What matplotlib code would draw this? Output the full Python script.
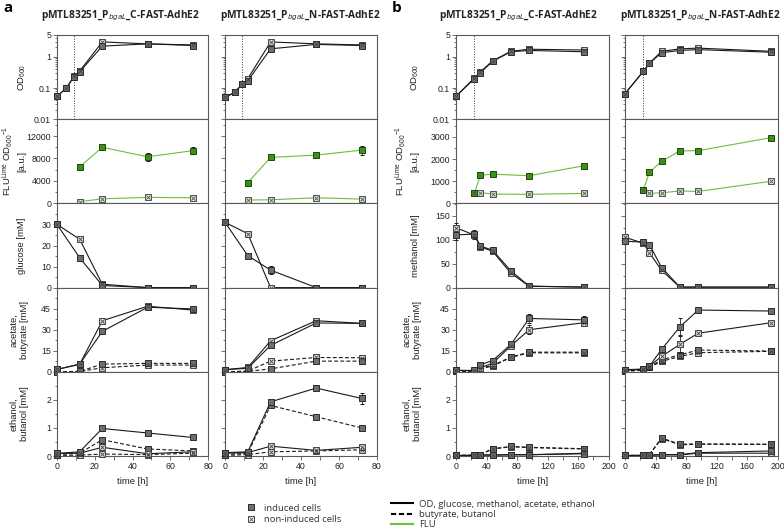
import matplotlib
matplotlib.use('Agg')
import matplotlib.pyplot as plt
from matplotlib.lines import Line2D
from matplotlib.ticker import MultipleLocator, FixedLocator, NullFormatter, LogLocator

plt.rcParams['font.family'] = ['Liberation Sans', 'DejaVu Sans']
plt.rcParams['mathtext.default'] = 'regular'

# ---------------- data: panel a, C-FAST (left) ----------------
ac_t_od = [0, 5, 9, 12, 24, 48, 72]
ac_od_ind = [0.054, 0.10, 0.23, 0.33, 2.2, 2.6, 2.3]
ac_od_non = [0.054, 0.10, 0.24, 0.35, 3.0, 2.6, 2.4]
ac_t_flu = [12, 24, 48, 72]
ac_flu_ind = [6500, 10000, 8300, 9400]
ac_flu_ind_err = [300, 400, 700, 650]
ac_flu_non = [300, 820, 1070, 1010]
ac_flu_non_err = [100, 300, 150, 100]
ac_t = [0, 12, 24, 48, 72]
ac_glc_ind = [30, 14.2, 1.0, 0, 0]
ac_glc_ind_err = [0.5, 0.8, 1.5, 0.2, 0.2]
ac_glc_non = [30, 23, 1.6, 0, 0]
ac_glc_non_err = [0.5, 1.5, 1.5, 0.2, 0.2]
ac_ace_ind = [1.7, 5.5, 28.8, 46.0, 44.8]
ac_ace_non = [1.7, 5.3, 36.4, 46.7, 44.0]
ac_ace_err = [0.3, 0.8, 2.0, 1.0, 1.5]
ac_but_ind = [0, 0.3, 5.5, 6.0, 6.0]
ac_but_non = [0, 0.2, 2.9, 4.8, 4.8]
ac_eth_ind = [0.09, 0.15, 0.98, 0.82, 0.66]
ac_eth_ind_err = [0.02, 0.03, 0.04, 0.08, 0.04]
ac_eth_non = [0.09, 0.10, 0.31, 0.08, 0.15]
ac_btl_ind = [0.05, 0.10, 0.58, 0.25, 0.18]
ac_btl_non = [0.02, 0.03, 0.07, 0.05, 0.10]

# ---------------- data: panel a, N-FAST (right) ----------------
an_t_od = [0, 5, 9, 12, 24, 48, 72]
an_od_ind = [0.05, 0.072, 0.13, 0.17, 1.8, 2.5, 2.3]
an_od_non = [0.05, 0.072, 0.13, 0.20, 3.0, 2.6, 2.4]
an_t_flu = [12, 24, 48, 72]
an_flu_ind = [3700, 8200, 8600, 9500]
an_flu_ind_err = [200, 300, 250, 800]
an_flu_non = [590, 650, 1000, 770]
an_flu_non_err = [300, 400, 150, 150]
an_t = [0, 12, 24, 48, 72]
an_glc_ind = [31, 15.2, 8.3, 0, 0]
an_glc_ind_err = [0.5, 0.8, 2.0, 0.3, 0.3]
an_glc_non = [31, 25.6, 0, 0, 0]
an_glc_non_err = [0.5, 0.8, 0.3, 0.3, 0.3]
an_ace_ind = [1.5, 2.5, 18.8, 34.8, 34.5]
an_ace_non = [1.5, 3.1, 22.1, 36.4, 34.5]
an_ace_err = [0.3, 0.5, 1.5, 1.2, 1.0]
an_but_ind = [0, 0.3, 2.1, 7.6, 7.6]
an_but_non = [0, 0.5, 7.6, 10.2, 10.0]
an_eth_ind = [0.12, 0.15, 1.93, 2.42, 2.05]
an_eth_ind_err = [0.02, 0.03, 0.08, 0.12, 0.2]
an_eth_non = [0.10, 0.12, 0.35, 0.20, 0.31]
an_btl_ind = [0.05, 0.10, 1.80, 1.40, 1.00]
an_btl_non = [0.02, 0.05, 0.15, 0.18, 0.22]

# ---------------- data: panel b, C-FAST (left) ----------------
bc_t = [0, 24, 32, 48, 72, 96, 168]
bc_od_ind = [0.054, 0.20, 0.31, 0.72, 1.45, 1.6, 1.45]
bc_od_non = [0.054, 0.21, 0.33, 0.74, 1.5, 1.75, 1.65]
bc_t_flu = [24, 32, 48, 96, 168]
bc_flu_ind = [450, 1270, 1320, 1250, 1700]
bc_flu_non = [450, 490, 420, 410, 450]
bc_flu_err = [40, 60, 50, 60, 50]
bc_met_ind = [110, 112, 87, 78, 35, 3, 1]
bc_met_non = [125, 110, 85, 76, 30, 3, 1]
bc_met_err = [10, 8, 5, 4, 4, 1, 1]
bc_ace_ind = [1.0, 1.0, 5.0, 8.0, 19.5, 38.0, 37.0]
bc_ace_non = [1.0, 0.8, 3.0, 6.0, 18.5, 30.0, 35.0]
bc_ace_err = [0.3, 0.3, 1.5, 1.0, 1.5, 3.0, 2.5]
bc_but_ind = [0.5, 0.5, 2.6, 4.5, 10.5, 14.0, 14.0]
bc_but_non = [0.3, 0.4, 2.2, 4.0, 10.3, 13.5, 13.5]
bc_eth_ind = [0.02, 0.02, 0.04, 0.04, 0.05, 0.05, 0.08]
bc_eth_non = [0.02, 0.02, 0.03, 0.03, 0.04, 0.04, 0.10]
bc_btl_ind = [0.02, 0.03, 0.05, 0.26, 0.34, 0.31, 0.26]
bc_btl_non = [0.02, 0.03, 0.05, 0.25, 0.33, 0.30, 0.25]

# ---------------- data: panel b, N-FAST (right) ----------------
bn_t = [0, 24, 32, 48, 72, 96, 192]
bn_od_ind = [0.066, 0.34, 0.62, 1.35, 1.6, 1.7, 1.4]
bn_od_non = [0.066, 0.34, 0.62, 1.5, 1.8, 1.9, 1.5]
bn_t_flu = [24, 32, 48, 72, 96, 192]
bn_flu_ind = [600, 1400, 1900, 2370, 2380, 2970]
bn_flu_non = [600, 450, 480, 560, 540, 1000]
bn_flu_err = [40, 80, 50, 60, 60, 50]
bn_met_ind = [97, 95, 90, 42, 1, 1, 1]
bn_met_non = [105, 93, 73, 36, 1, 1, 1]
bn_met_err = [5, 4, 3, 4, 1, 1, 1]
bn_ace_ind = [1.5, 2.0, 4.0, 16.0, 32.0, 44.0, 43.3]
bn_ace_non = [1.0, 1.8, 4.0, 11.0, 19.5, 27.5, 35.0]
bn_ace_err = [0.5, 0.5, 0.8, 1.0, 6.0, 2.0, 1.0]
bn_but_ind = [0.5, 1.5, 3.5, 8.6, 12.1, 15.5, 14.8]
bn_but_non = [0.3, 1.2, 3.2, 7.4, 11.0, 13.6, 14.6]
bn_eth_ind = [0.02, 0.02, 0.03, 0.05, 0.05, 0.12, 0.18]
bn_eth_non = [0.02, 0.02, 0.03, 0.04, 0.04, 0.10, 0.10]
bn_btl_ind = [0.02, 0.02, 0.05, 0.64, 0.42, 0.43, 0.42]
bn_btl_non = [0.02, 0.02, 0.05, 0.62, 0.40, 0.42, 0.41]

induction_a = 9
induction_b = 24

titles = [r'pMTL83251_P$_{\it{bgaL}}$_C-FAST-AdhE2',
          r'pMTL83251_P$_{\it{bgaL}}$_N-FAST-AdhE2']

# ---------------- styling ----------------
W, H = 784, 530
fig = plt.figure(figsize=(W / 100, H / 100), dpi=100)

IND_FC, IND_EC = '#6e6e6e', '#2b2b2b'
NON_FC, NON_EC = '#d9d9d9', '#454545'
FLU_IND_FC, FLU_IND_EC = '#3f8f1c', '#1d4a0b'
FLU_LINE = '#6cbf3c'
SPINE = '#5a5a5a'
TXT = '#222222'
MS = 3.8


def rect(x, y, w, h):
    return [x / W, 1 - (y + h) / H, w / W, h / H]


col_x = [57, 225, 456, 625]
col_w = [151, 152, 152.5, 152.5]
row_y = [35, 119.2, 203.4, 287.6, 371.8]
row_h = 84.2
title_cx = [120, 300, 518, 700]


def draw(ax, t, y, err=None, induced=True, ls='-', flu=False):
    if flu:
        color = FLU_LINE
        fc, ec = (FLU_IND_FC, FLU_IND_EC) if induced else ('#dfe6d8', '#505050')
    else:
        color = '#1a1a1a'
        fc, ec = (IND_FC, IND_EC) if induced else (NON_FC, NON_EC)
    kw = dict(color=color, lw=0.8, marker='s', ms=MS, mfc=fc, mec=ec, mew=0.7,
              clip_on=False, zorder=3)
    if ls == '--':
        kw['dashes'] = (3.5, 2)
    else:
        kw['ls'] = ls
    if err is not None:
        ax.errorbar(t, y, yerr=err, ecolor='#1a1a1a', elinewidth=0.6, capsize=1.6,
                    capthick=0.6, **kw)
    else:
        ax.plot(t, y, **kw)
    if not induced:
        ax.plot(t, y, ls='none', marker='x', ms=MS * 0.65, mew=0.6, color=ec,
                clip_on=False, zorder=4)


def style(ax, xmax, xmaj, xmin_, bottom, left_labels):
    ax.set_xlim(0, xmax)
    for s in ax.spines.values():
        s.set_color(SPINE)
        s.set_linewidth(0.8)
    ax.xaxis.set_major_locator(MultipleLocator(xmaj))
    ax.xaxis.set_minor_locator(MultipleLocator(xmin_))
    ax.tick_params(axis='both', which='both', direction='out', colors=SPINE,
                   labelcolor=TXT, labelsize=6.3, width=0.6)
    ax.tick_params(axis='both', which='major', length=2.8, pad=1.5)
    ax.tick_params(axis='both', which='minor', length=2.8)
    ax.tick_params(axis='y', which='minor', length=1.6)
    ax.tick_params(right=False, top=False)
    if not bottom:
        ax.tick_params(axis='x', labelbottom=False)
    if not left_labels:
        ax.tick_params(axis='y', labelleft=False)


panel_a = [
    dict(t_od=ac_t_od, od=(ac_od_ind, ac_od_non), t_flu=ac_t_flu,
         flu=(ac_flu_ind, ac_flu_non), flu_err=(ac_flu_ind_err, ac_flu_non_err),
         t=ac_t, sub=(ac_glc_ind, ac_glc_non), sub_err=(ac_glc_ind_err, ac_glc_non_err),
         ace=(ac_ace_ind, ac_ace_non), ace_err=ac_ace_err, but=(ac_but_ind, ac_but_non),
         eth=(ac_eth_ind, ac_eth_non), eth_err=ac_eth_ind_err, btl=(ac_btl_ind, ac_btl_non)),
    dict(t_od=an_t_od, od=(an_od_ind, an_od_non), t_flu=an_t_flu,
         flu=(an_flu_ind, an_flu_non), flu_err=(an_flu_ind_err, an_flu_non_err),
         t=an_t, sub=(an_glc_ind, an_glc_non), sub_err=(an_glc_ind_err, an_glc_non_err),
         ace=(an_ace_ind, an_ace_non), ace_err=an_ace_err, but=(an_but_ind, an_but_non),
         eth=(an_eth_ind, an_eth_non), eth_err=an_eth_ind_err, btl=(an_btl_ind, an_btl_non)),
]
panel_b = [
    dict(t_od=bc_t, od=(bc_od_ind, bc_od_non), t_flu=bc_t_flu,
         flu=(bc_flu_ind, bc_flu_non), flu_err=(bc_flu_err, bc_flu_err),
         t=bc_t, sub=(bc_met_ind, bc_met_non), sub_err=(bc_met_err, bc_met_err),
         ace=(bc_ace_ind, bc_ace_non), ace_err=bc_ace_err, but=(bc_but_ind, bc_but_non),
         eth=(bc_eth_ind, bc_eth_non), eth_err=None, btl=(bc_btl_ind, bc_btl_non)),
    dict(t_od=bn_t, od=(bn_od_ind, bn_od_non), t_flu=bn_t_flu,
         flu=(bn_flu_ind, bn_flu_non), flu_err=(bn_flu_err, bn_flu_err),
         t=bn_t, sub=(bn_met_ind, bn_met_non), sub_err=(bn_met_err, bn_met_err),
         ace=(bn_ace_ind, bn_ace_non), ace_err=bn_ace_err, but=(bn_but_ind, bn_but_non),
         eth=(bn_eth_ind, bn_eth_non), eth_err=None, btl=(bn_btl_ind, bn_btl_non)),
]

columns = [(panel_a[0], 0, 'a'), (panel_a[1], 1, 'a'), (panel_b[0], 2, 'b'), (panel_b[1], 3, 'b')]

for d, ci, pan in columns:
    xmax, xmaj, xmn = (80, 20, 10) if pan == 'a' else (200, 40, 20)
    left = ci in (0, 2)
    axes = [fig.add_axes(rect(col_x[ci], row_y[r], col_w[ci], row_h)) for r in range(5)]
    for r, ax in enumerate(axes):
        style(ax, xmax, xmaj, xmn, r == 4, left)
    # OD
    ax = axes[0]
    ax.set_yscale('log')
    ax.set_ylim(0.01, 5)
    ax.yaxis.set_major_locator(FixedLocator([0.01, 0.1, 1, 5]))
    ax.yaxis.set_minor_locator(LogLocator(base=10, subs=range(2, 10), numticks=20))
    ax.yaxis.set_minor_formatter(NullFormatter())
    ax.set_yticklabels(['0.01', '0.1', '1', '5'])
    ax.tick_params(axis='y', labelleft=left)
    ax.axvline(induction_a if pan == 'a' else induction_b, ls=':', color='#333333', lw=0.7)
    draw(ax, d['t_od'], d['od'][1], induced=False)
    draw(ax, d['t_od'], d['od'][0], induced=True)
    # FLU
    ax = axes[1]
    if pan == 'a':
        ax.set_ylim(0, 15000)
        ax.yaxis.set_major_locator(FixedLocator([0, 4000, 8000, 12000]))
        ax.yaxis.set_minor_locator(MultipleLocator(2000))
    else:
        ax.set_ylim(0, 3800)
        ax.yaxis.set_major_locator(FixedLocator([0, 1000, 2000, 3000]))
        ax.yaxis.set_minor_locator(MultipleLocator(500))
    draw(ax, d['t_flu'], d['flu'][1], d['flu_err'][1], induced=False, flu=True)
    draw(ax, d['t_flu'], d['flu'][0], d['flu_err'][0], induced=True, flu=True)
    # substrate
    ax = axes[2]
    if pan == 'a':
        ax.set_ylim(0, 40)
        ax.yaxis.set_major_locator(FixedLocator([0, 10, 20, 30]))
        ax.yaxis.set_minor_locator(MultipleLocator(5))
    else:
        ax.set_ylim(0, 176)
        ax.yaxis.set_major_locator(FixedLocator([0, 50, 100, 150]))
        ax.yaxis.set_minor_locator(MultipleLocator(25))
    draw(ax, d['t'], d['sub'][1], d['sub_err'][1], induced=False)
    draw(ax, d['t'], d['sub'][0], d['sub_err'][0], induced=True)
    # acids
    ax = axes[3]
    ax.set_ylim(0, 60)
    ax.yaxis.set_major_locator(FixedLocator([0, 15, 30, 45]))
    ax.yaxis.set_minor_locator(MultipleLocator(7.5))
    draw(ax, d['t'], d['but'][1], induced=False, ls='--')
    draw(ax, d['t'], d['but'][0], induced=True, ls='--')
    draw(ax, d['t'], d['ace'][1], d['ace_err'], induced=False)
    draw(ax, d['t'], d['ace'][0], d['ace_err'], induced=True)
    # alcohols
    ax = axes[4]
    ax.set_ylim(0, 3)
    ax.yaxis.set_major_locator(FixedLocator([0, 1, 2]))
    ax.yaxis.set_minor_locator(MultipleLocator(0.5))
    draw(ax, d['t'], d['btl'][1], induced=False, ls='--')
    draw(ax, d['t'], d['btl'][0], induced=True, ls='--')
    draw(ax, d['t'], d['eth'][1], induced=False)
    draw(ax, d['t'], d['eth'][0], d['eth_err'], induced=True)
    ax.set_xlabel('time [h]', fontsize=6.8, color=TXT, labelpad=4)
    # title
    fig.text(title_cx[ci] / W, 1 - 16 / H, titles[ci % 2], ha='center', va='center',
             fontsize=7.3, fontweight='bold', family=['Open Sans', 'DejaVu Sans'], color=TXT)

# y labels
lab_fs = 6.8
def ylab(xpx, row, text):
    fig.text(xpx / W, 1 - (row_y[row] + row_h / 2) / H, text, rotation=90, ha='center',
             va='center', fontsize=lab_fs, color=TXT, linespacing=1.3)

for base, sub in ((0, 'glucose [mM]'), (393, 'methanol [mM]')):
    ylab(base + 22, 0, 'OD$_{600}$')
    ylab(base + 14, 1, 'FLU$^{Lime}$ OD$_{600}$$^{-1}$\n[a.u.]')
    ylab(base + 22, 2, sub)
    ylab(base + 19, 3, 'acetate,\nbutyrate [mM]')
    ylab(base + 19, 4, 'ethanol,\nbutanol [mM]')

fig.text(3 / W, 1 - 8 / H, 'a', fontsize=11, fontweight='bold', ha='left', va='center',
         family=['Open Sans', 'DejaVu Sans'])
fig.text(392 / W, 1 - 8 / H, 'b', fontsize=11, fontweight='bold', ha='left', va='center',
         family=['Open Sans', 'DejaVu Sans'])

# legends
h_ind = Line2D([], [], ls='none', marker='s', ms=MS, mfc=IND_FC, mec=IND_EC, mew=0.7)
h_non_sq = Line2D([], [], ls='none', marker='s', ms=MS + 0.6, mfc='white', mec=NON_EC, mew=0.7)
h_non_x = Line2D([], [], ls='none', marker='x', ms=2.8, mew=0.6, color=NON_EC)
leg1 = fig.legend([h_ind, (h_non_sq, h_non_x)], ['induced cells', 'non-induced cells'],
                  loc='upper left', bbox_to_anchor=(242 / W, 1 - 499 / H), frameon=False,
                  handlelength=1.0, handletextpad=0.8, labelspacing=0.25, borderpad=0,
                  prop=dict(family=['Open Sans', 'DejaVu Sans'], size=6.8))
for t in leg1.get_texts():
    t.set_color('#333333')
h1 = Line2D([], [], color='black', lw=1.5)
h2 = Line2D([], [], color='black', lw=1.5, dashes=(2.5, 1.3))
h3 = Line2D([], [], color='#6cc43a', lw=1.5)
leg2 = fig.legend([h1, h2, h3], ['OD, glucose, methanol, acetate, ethanol', 'butyrate, butanol', 'FLU'],
                  loc='upper left', bbox_to_anchor=(386 / W, 1 - 495 / H), frameon=False,
                  handlelength=2.4, handletextpad=0.6, labelspacing=0.12, borderpad=0,
                  prop=dict(family=['Open Sans', 'DejaVu Sans'], size=6.8))
for t in leg2.get_texts():
    t.set_color('#333333')

fig.savefig('out.png', dpi=100)
